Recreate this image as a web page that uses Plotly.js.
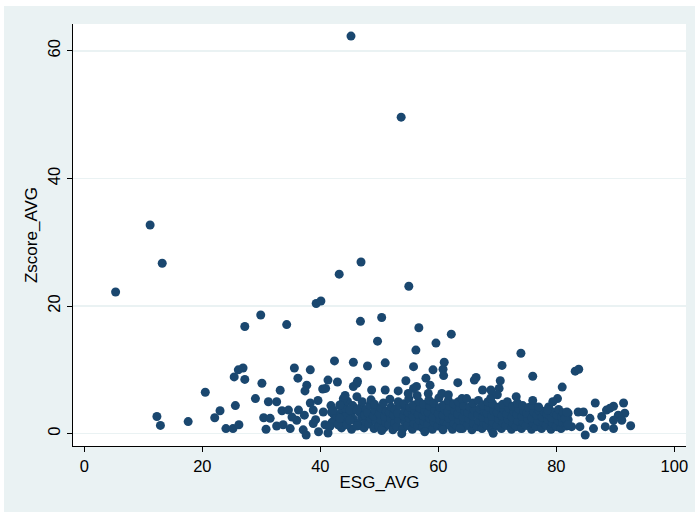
<!DOCTYPE html>
<html>
<head>
<meta charset="utf-8">
<script src="https://cdn.plot.ly/plotly-3.0.1.min.js"></script>
<style>
  html, body { margin: 0; padding: 0; background: #ffffff; }
  #chart { position: absolute; left: 4px; top: 6px; width: 691px; height: 506px; }
</style>
</head>
<body>
<div id="chart"></div>
<script>
// ---- Data ----
const xAxisTitle = "ESG_AVG";
const yAxisTitle = "Zscore_AVG";
const xTickVals = [0, 20, 40, 60, 80, 100];
const yTickVals = [0, 20, 40, 60];

// High points (Zscore above ~9)
const esgHigh = [45.2, 53.7, 11.15, 13.2, 5.3, 43.2, 46.9, 55.0, 39.3, 40.1,
                 29.9, 27.2, 34.3, 46.8, 50.4, 56.7, 62.2, 59.6, 49.7, 56.2,
                 74.0, 45.6, 48.0, 51.0, 61.0, 55.8, 59.1, 60.8, 60.9, 70.8,
                 83.2, 83.8, 76.0, 42.4, 35.6, 38.3, 26.1, 26.9];
const zHigh   = [62.3, 49.6, 32.7, 26.7, 22.2, 25.0, 26.9, 23.1, 20.4, 20.8,
                 18.6, 16.8, 17.1, 17.6, 18.2, 16.6, 15.6, 14.2, 14.5, 13.1,
                 12.6, 11.2, 10.6, 11.1, 11.2, 10.5, 10.0, 10.1, 9.1, 10.7,
                 9.8, 10.1, 9.0, 11.4, 10.3, 10.0, 10.0, 10.3];

// Middle points (Zscore ~4 to 9)
const esgMid = [25.4, 27.2, 36.2, 66.4, 66.1, 57.9, 54.5, 63.3, 70.5, 81.0,
                30.1, 37.7, 37.4, 41.3, 40.4, 40.9, 42.9, 46.2, 45.6, 46.3,
                58.6, 20.5, 33.2, 29.0, 31.2, 32.6, 25.6, 38.3, 39.6, 43.9,
                43.3, 46.2, 48.7, 51.0, 53.2, 55.8, 56.3, 54.9, 58.3, 60.6,
                61.7, 67.5, 68.9, 70.3, 70.0, 73.2, 76.0, 80.2, 79.4, 64.8,
                77.0, 86.6, 91.4, 89.7, 89.1, 23.0, 44.2];
const zMid   = [8.9, 8.5, 8.7, 8.8, 8.4, 8.7, 8.3, 8.0, 8.3, 7.3,
                7.9, 7.6, 6.7, 8.4, 7.0, 7.1, 8.1, 7.9, 7.4, 8.2,
                7.6, 6.5, 6.8, 5.5, 5.0, 5.0, 4.4, 4.8, 5.2, 5.5,
                4.5, 5.8, 6.85, 6.85, 6.7, 7.1, 7.4, 6.3, 6.3, 6.3,
                6.1, 6.85, 6.85, 7.1, 6.1, 5.8, 5.2, 5.5, 5.0, 5.5,
                4.2, 4.8, 4.8, 4.3, 4.0, 3.6, 6.0];

// Sparse low points on the left and right of the main band
const esgLowSide = [12.3, 12.9, 17.6, 22.1, 24.0, 25.2, 26.2, 30.4, 31.5, 30.8,
                    33.5, 34.6, 32.6, 33.7, 34.9, 36.3, 36.0, 37.1, 37.6, 38.8,
                    38.8, 39.7, 41.3, 40.5, 41.9, 40.8, 41.6, 42.8, 44.2, 45.0,
                    43.0, 44.5, 46.2, 46.2, 45.0, 42.2, 43.3, 35.2, 37.3, 39.2,
                    91.6, 92.6, 84.9, 83.7, 84.6, 82.0, 81.5, 85.7, 87.7, 90.5,
                    82.6, 84.0, 86.3, 88.3, 89.7, 89.7, 91.1, 88.5, 82.0, 81.8,
                    78.5, 50.4, 53.8, 57.7, 60.8, 63.7, 69.3, 46.2];
const zLowSide   = [2.7, 1.3, 1.9, 2.5, 0.8, 0.8, 1.4, 2.5, 2.4, 0.7,
                    3.6, 3.7, 1.2, 1.4, 0.8, 3.7, 2.1, 0.6, -0.2, 1.6,
                    3.7, 0.3, 0.1, 3.4, 3.4, 1.4, 1.1, 2.7, 2.7, 3.7,
                    1.4, 1.4, 3.7, 1.6, 2.1, 3.7, 2.4, 2.6, 2.9, 2.2,
                    3.2, 1.25, -0.2, 3.4, 3.4, 3.2, 2.4, 2.4, 2.7, 2.9,
                    1.1, 1.1, 0.8, 1.1, 0.8, 2.1, 2.1, 3.7, 1.4, 3.4,
                    3.7, 0.5, 0.0, 0.3, 0.6, 0.8, 0.05, 1.2];

// Dense band (Zscore ~0.5 to 6, ESG ~42 to 82)
const esgBand = [
  42.0, 42.3, 41.8,
  43.6, 43.9, 43.5, 43.8,
  44.4, 44.7, 44.3, 44.6,
  45.3, 45.6, 45.2, 45.5,
  46.8, 47.0, 46.6, 46.9, 47.1,
  47.4, 47.7, 47.5, 47.8,
  48.2, 48.5, 48.0, 48.4, 48.6,
  49.1, 49.4, 49.0, 49.3, 49.2,
  49.9, 50.2, 50.0, 50.3,
  50.8, 51.1, 50.9, 51.2, 50.7,
  51.6, 51.9, 51.7, 52.0, 51.8,
  52.3, 52.6, 52.4, 52.7,
  53.0, 53.3, 53.1, 53.4, 53.2,
  54.0, 54.3, 54.1, 54.4, 54.2,
  54.8, 55.1, 54.9, 55.2, 55.0,
  55.6, 55.9, 55.7, 56.0, 55.8,
  56.5, 56.8, 56.6, 56.9, 56.7, 56.4,
  57.3, 57.6, 57.4, 57.7, 57.5,
  58.2, 58.5, 58.3, 58.6, 58.4,
  59.0, 59.3, 59.1, 59.4, 59.2,
  59.9, 60.2, 60.0, 60.3, 60.1,
  60.7, 61.0, 60.8, 61.1, 60.9,
  61.5, 61.8, 61.6, 61.9, 61.7,
  62.4, 62.7, 62.5, 62.8, 62.6,
  63.2, 63.5, 63.3, 63.6, 63.4,
  64.1, 64.4, 64.2, 64.5, 64.3, 64.0,
  64.9, 65.2, 65.0, 65.3,
  65.7, 66.0, 65.8, 66.1, 65.9,
  66.6, 66.9, 66.7, 67.0, 66.8,
  67.4, 67.7, 67.5, 67.8, 67.6,
  68.2, 68.5, 68.3, 68.6, 68.4,
  69.0, 69.3, 69.1, 69.4, 69.2, 68.9,
  69.9, 70.2, 70.0, 70.3,
  70.7, 71.0, 70.8, 71.1, 70.9,
  71.5, 71.8, 71.6, 71.9, 71.7,
  72.4, 72.7, 72.5, 72.8, 72.6,
  73.2, 73.5, 73.3, 73.6, 73.4,
  74.1, 74.4, 74.2, 74.5, 74.3,
  74.9, 75.2, 75.0, 75.3,
  75.8, 76.1, 75.9, 76.2, 76.0,
  76.6, 76.9, 76.7, 77.0,
  77.5, 77.8, 77.6, 77.9,
  78.3, 78.6, 78.4, 78.7,
  79.1, 79.4, 79.2, 79.5,
  80.0, 80.3, 80.1, 80.4,
  80.8, 81.1, 80.9, 81.2,
  81.7, 82.0, 81.8
];
const zBand = [
  1.8, 3.0, 4.4,
  0.9, 2.1, 3.3, 4.8,
  1.6, 2.9, 3.9, 5.1,
  0.7, 2.3, 3.1, 4.4,
  1.3, 2.6, 3.4, 4.1, 5.0,
  0.9, 1.9, 2.9, 3.8,
  1.5, 2.4, 3.3, 4.5, 5.3,
  0.8, 2.0, 2.8, 3.6, 4.6,
  1.2, 2.2, 3.1, 4.0,
  0.9, 1.8, 2.7, 3.5, 4.8,
  1.4, 2.4, 3.3, 4.2, 5.4,
  0.6, 1.7, 2.9, 3.8,
  1.1, 2.2, 3.2, 4.4, 5.0,
  0.8, 1.9, 2.8, 3.6, 4.7,
  1.3, 2.4, 3.3, 4.1, 5.5,
  0.7, 1.6, 2.7, 3.7, 4.5,
  1.2, 2.1, 3.0, 4.0, 5.1, 6.0,
  0.9, 1.9, 2.8, 3.5, 4.6,
  1.4, 2.5, 3.3, 4.3, 5.3,
  0.7, 1.8, 2.6, 3.7, 4.8,
  1.2, 2.2, 3.1, 4.1, 5.6,
  0.9, 1.9, 2.9, 3.8, 4.5,
  1.4, 2.4, 3.4, 4.3, 5.2,
  0.7, 1.6, 2.7, 3.6, 4.7,
  1.1, 2.1, 3.1, 4.0, 5.0,
  0.8, 1.8, 2.6, 3.5, 4.4, 5.5,
  1.3, 2.3, 3.3, 4.2,
  0.6, 1.6, 2.8, 3.7, 4.8,
  1.1, 2.0, 3.0, 3.9, 5.2,
  0.8, 1.7, 2.6, 3.5, 4.5,
  1.3, 2.2, 3.2, 4.1, 5.0,
  0.7, 1.8, 2.7, 3.6, 4.7, 5.6,
  1.2, 2.3, 3.3, 4.2,
  0.8, 1.7, 2.8, 3.8, 4.6,
  1.3, 2.2, 3.1, 4.0, 5.0,
  0.7, 1.6, 2.6, 3.5, 4.3,
  1.1, 2.0, 3.0, 3.9, 4.8,
  0.8, 1.8, 2.7, 3.6, 4.4,
  1.3, 2.3, 3.2, 4.1,
  0.7, 1.6, 2.5, 3.4, 4.5,
  1.1, 2.0, 2.9, 3.7,
  0.8, 1.7, 2.6, 3.5,
  1.3, 2.2, 3.1, 4.2,
  0.7, 1.6, 2.5, 3.4,
  1.1, 2.0, 2.9, 3.8,
  0.8, 1.7, 2.6, 3.3,
  1.2, 2.2, 2.9
];

// ---- Build the trace ----
const xs = [].concat(esgBand, esgLowSide, esgMid, esgHigh);
const ys = [].concat(zBand, zLowSide, zMid, zHigh);

const FONT = "Liberation Sans, Arial, Helvetica, sans-serif";
const NAVY = "#1A476F";
const PANEL = "#EAF2F3";

const trace = {
  type: "scatter",
  mode: "markers",
  x: xs,
  y: ys,
  marker: { color: NAVY, size: 9, line: { width: 0 } },
  hoverinfo: "x+y",
  showlegend: false
};

const layout = {
  width: 691,
  height: 506,
  margin: { l: 69, r: 9, t: 18, b: 66, pad: 0 },
  paper_bgcolor: PANEL,
  plot_bgcolor: "#ffffff",
  font: { family: FONT, size: 16.5, color: "#000000" },
  showlegend: false,
  xaxis: {
    range: [-1.92, 101.98],
    tickmode: "array",
    tickvals: xTickVals,
    ticktext: xTickVals.map(String),
    ticks: "outside",
    ticklen: 5,
    tickwidth: 1,
    tickcolor: "#000000",
    showline: true,
    linecolor: "#000000",
    linewidth: 1,
    showgrid: false,
    zeroline: false,
    tickfont: { family: FONT, size: 16.5, color: "#000000" },
    title: { text: xAxisTitle, font: { family: FONT, size: 17, color: "#000000" }, standoff: 2 }
  },
  yaxis: {
    range: [-1.93, 64.2],
    tickmode: "array",
    tickvals: yTickVals,
    ticktext: yTickVals.map(String),
    tickangle: -90,
    ticks: "outside",
    ticklen: 5,
    tickwidth: 1,
    tickcolor: "#000000",
    showline: true,
    linecolor: "#000000",
    linewidth: 1,
    showgrid: true,
    gridcolor: PANEL,
    gridwidth: 1.5,
    zeroline: false,
    tickfont: { family: FONT, size: 16.5, color: "#000000" },
    title: { text: yAxisTitle, font: { family: FONT, size: 17, color: "#000000" }, standoff: 3 }
  }
};

Plotly.newPlot("chart", [trace], layout, { displayModeBar: false, staticPlot: true });
</script>
</body>
</html>
